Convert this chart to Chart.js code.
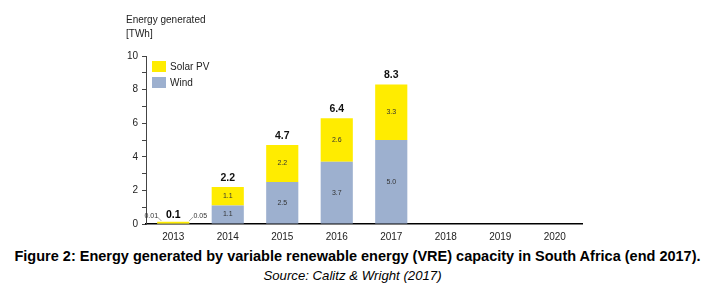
<!DOCTYPE html>
<html><head><meta charset="utf-8">
<script src="https://cdn.jsdelivr.net/npm/chart.js@4/dist/chart.umd.min.js"></script>
<style>
html,body{margin:0;padding:0;background:#fff;width:705px;height:284px;overflow:hidden}
#wrap{position:absolute;left:0;top:0;width:705px;height:245px}
.cap{position:absolute;left:0;width:705px;text-align:center;font-family:"Liberation Sans",Arial,sans-serif;color:#000;white-space:nowrap}
#c1{top:248px;left:5px;font-size:14.5px;font-weight:bold}
#c2{top:268px;font-size:13.2px;font-style:italic}
</style></head><body>
<div id="wrap"><canvas id="ch" width="705" height="245"></canvas></div>
<div class="cap" id="c1">Figure 2: Energy generated by variable renewable energy (VRE) capacity in South Africa (end 2017).</div>
<div class="cap" id="c2">Source: Calitz &amp; Wright (2017)</div>
<script>
const years = ['2013','2014','2015','2016','2017','2018','2019','2020'];
const wind = [0.01, 1.1, 2.5, 3.7, 5.0, null, null, null];
const solar = [0.05, 1.1, 2.2, 2.6, 3.3, null, null, null];
const totals = ['0.1','2.2','4.7','6.4','8.3', null, null, null];
const windLabels = [null,'1.1','2.5','3.7','5.0',null,null,null];
const solarLabels = [null,'1.1','2.2','2.6','3.3',null,null,null];
const smallLabels2013 = ['0.01','0.05'];
const yTicks = [0,2,4,6,8,10];

const FONT = '"Liberation Sans", Arial, sans-serif';
const WIND_C = '#9DB0CF', SOLAR_C = '#FFEC00';

const labelPlugin = {
  id: 'labels',
  afterDatasetsDraw(chart) {
    const ctx = chart.ctx;
    const m0 = chart.getDatasetMeta(0), m1 = chart.getDatasetMeta(1);
    ctx.save();
    ctx.textAlign = 'center'; ctx.textBaseline = 'middle';
    years.forEach((y, i) => {
      if (wind[i] == null) return;
      const bw = m0.data[i], bs = m1.data[i];
      if (i === 0) {
        ctx.font = 'bold 10.5px ' + FONT; ctx.fillStyle = '#000';
        ctx.fillText(totals[i], bs.x, bs.y - 7);
        ctx.font = '7px ' + FONT; ctx.fillStyle = '#333';
        ctx.fillText(smallLabels2013[0], bs.x - 22, bs.y - 6);
        ctx.fillText(smallLabels2013[1], bs.x + 27, bs.y - 6);
        ctx.strokeStyle = '#888'; ctx.lineWidth = 0.8;
        ctx.beginPath();
        ctx.moveTo(bs.x - 16, bs.y - 5); ctx.lineTo(bs.x - 12, bs.y - 1);
        ctx.moveTo(bs.x + 16, bs.y - 1); ctx.lineTo(bs.x + 20, bs.y - 5);
        ctx.stroke();
        return;
      }
      ctx.font = 'bold 10.5px ' + FONT; ctx.fillStyle = '#111';
      ctx.fillText(totals[i], bs.x, bs.y - 9);
      ctx.font = '7px ' + FONT; ctx.fillStyle = '#333';
      ctx.fillText(solarLabels[i], bs.x, (bs.y + bs.base) / 2);
      ctx.fillText(windLabels[i], bw.x, (bw.y + bw.base) / 2);
    });
    ctx.textAlign = 'left'; ctx.font = '10px ' + FONT; ctx.fillStyle = '#222';
    ctx.fillText('Energy generated', 126, 20);
    ctx.fillText('[TWh]', 126, 34);
    const items = [[chart.data.datasets[1], 61], [chart.data.datasets[0], 77]];
    items.forEach(([ds, top]) => {
      ctx.fillStyle = ds.backgroundColor;
      ctx.fillRect(152, top, 14, 11);
      ctx.fillStyle = '#222';
      ctx.fillText(ds.label, 170, top + 6);
    });
    ctx.restore();
  }
};

new Chart(document.getElementById('ch'), {
  type: 'bar',
  data: {
    labels: years,
    datasets: [
      { label: 'Wind', data: wind, backgroundColor: WIND_C, borderWidth: 0 },
      { label: 'Solar PV', data: solar, backgroundColor: SOLAR_C, borderWidth: 0, minBarLength: 2 }
    ]
  },
  options: {
    responsive: false, animation: false,
    layout: { padding: { left: 0, right: 123, top: 56, bottom: 0 } },
    plugins: { legend: { display: false }, tooltip: { enabled: false } },
    categoryPercentage: 1.0, barPercentage: 0.59,
    scales: {
      x: {
        stacked: true,
        grid: { display: false, drawTicks: false },
        border: { display: true, color: '#000', width: 1.5 },
        ticks: { font: { family: FONT, size: 10 }, color: '#222', padding: 7, maxRotation: 0 },
        afterFit(s) { s.height = 21; }
      },
      y: {
        stacked: true, min: 0, max: 10,
        grid: { drawOnChartArea: false, drawTicks: true, tickLength: 4, color: '#444' },
        border: { display: true, color: '#444', width: 1 },
        ticks: {
          stepSize: 1, font: { family: FONT, size: 10 }, color: '#222', padding: 4,
          callback: v => yTicks.includes(v) ? String(v) : ''
        },
        afterFit(s) { s.width = 146; }
      }
    }
  },
  plugins: [labelPlugin]
});
</script>
</body></html>
